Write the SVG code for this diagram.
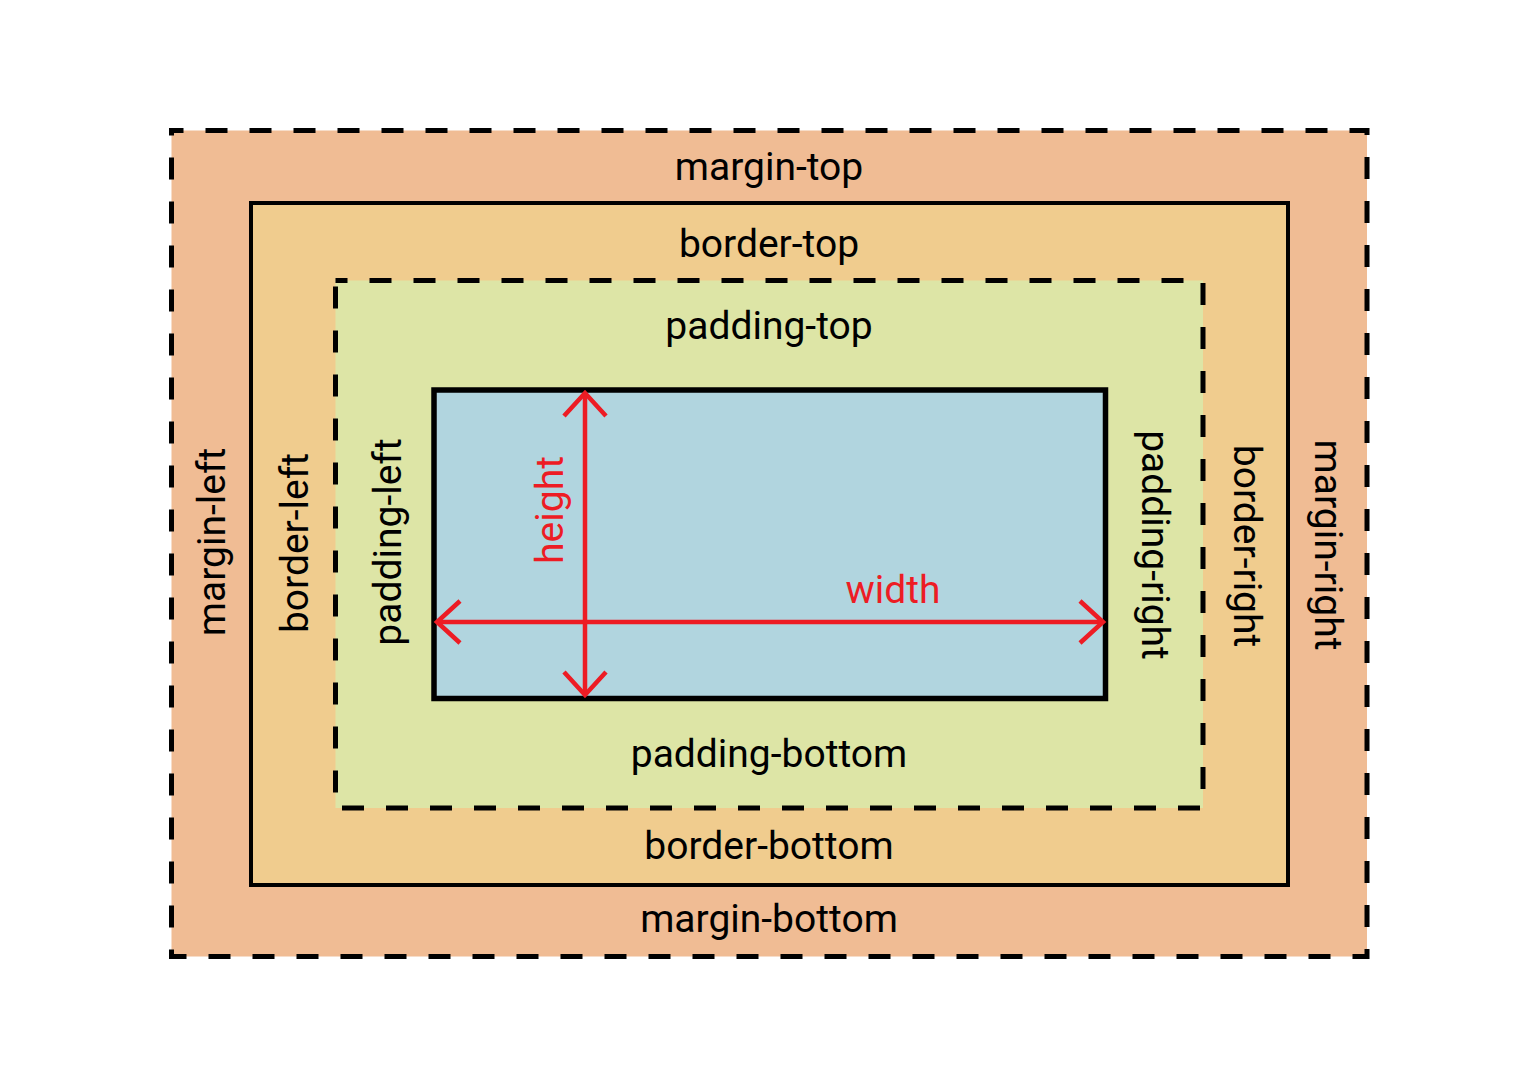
<svg xmlns="http://www.w3.org/2000/svg" width="1534" height="1084" viewBox="0 0 1534 1084">
  <style>
    .lbl { font-family: Roboto, "Noto Sans", "Liberation Sans", sans-serif; font-size: 39px; fill: #000; text-anchor: middle; }
    .red { fill: #ED1C24; }
    .dash { stroke: #000; stroke-width: 5; stroke-dasharray: 22 22; }
    .solid { stroke: #000; }
    .arrow { stroke: #ED1C24; stroke-width: 4.5; fill: none; marker-start: url(#chev); marker-end: url(#chev); }
  </style>
  <defs>
    <marker id="chev" markerUnits="userSpaceOnUse" orient="auto-start-reverse" refX="0" refY="0" markerWidth="60" markerHeight="60" viewBox="-30 -30 60 60" overflow="visible">
      <path d="M-23,-21 L0,0 L-23,21" fill="none" stroke="#ED1C24" stroke-width="4.5" stroke-linejoin="miter"/>
    </marker>
  </defs>
  <rect width="1534" height="1084" fill="#FFFFFF"/>

  <g id="margin">
    <rect x="171.5" y="130.5" width="1195.5" height="826" fill="#F0BC94" class="dash" stroke-dashoffset="10"/>
    <text class="lbl" x="769" y="180">margin-top</text>
    <text class="lbl" x="769" y="932">margin-bottom</text>
    <text class="lbl" transform="translate(225,542) rotate(-90)">margin-left</text>
    <text class="lbl" transform="translate(1315,545) rotate(90)">margin-right</text>
  </g>

  <g id="border">
    <rect x="251" y="203" width="1037" height="682" fill="#F0CC8E" class="solid" stroke-width="4"/>
    <text class="lbl" x="769" y="257">border-top</text>
    <text class="lbl" x="769" y="859">border-bottom</text>
    <text class="lbl" transform="translate(308,543) rotate(-90)">border-left</text>
    <text class="lbl" transform="translate(1234,546) rotate(90)">border-right</text>
  </g>

  <g id="padding">
    <rect x="335.5" y="280.5" width="867.5" height="527.5" fill="#DDE5A6" class="dash" stroke-dashoffset="10"/>
    <text class="lbl" x="769" y="339">padding-top</text>
    <text class="lbl" x="769" y="767">padding-bottom</text>
    <text class="lbl" transform="translate(401,542) rotate(-90)">padding-left</text>
    <text class="lbl" transform="translate(1142,545) rotate(90)">padding-right</text>
  </g>

  <g id="content">
    <rect x="434" y="390" width="671.5" height="308.5" fill="#B1D5DF" class="solid" stroke-width="5.5"/>
    <text class="lbl red" transform="translate(563,510) rotate(-90)">height</text>
    <text class="lbl red" x="893" y="603">width</text>
  </g>

  <g id="connectors">
    <path class="arrow" d="M585,393 L585,695"/>
    <path class="arrow" d="M437,622 L1103,622"/>
  </g>
</svg>
